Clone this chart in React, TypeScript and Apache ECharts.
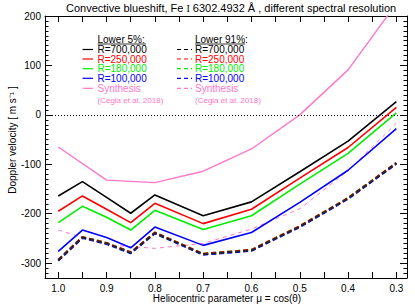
import React, { useEffect, useRef } from "react";
import * as echarts from "echarts";

const muObs = [1.0, 0.95, 0.9, 0.85, 0.8, 0.7, 0.6, 0.5, 0.4, 0.3];
const r700Low5 = [-164, -135, -167, -199, -162, -204, -176, -115, -53, 27];
const r250Low5 = [-195, -164, -191, -218, -179, -220, -191, -128, -66, 15];
const r180Low5 = [-218, -185, -207, -233, -193, -232, -204, -140, -78, 4];
const r100Low5 = [-276, -233, -248, -269, -227, -264, -238, -177, -112, -28];
const r700Low91 = [-294, -248, -260, -279, -239, -282, -274, -226, -169, -98];
const r250Low91 = [-293, -247, -259, -278, -238, -281, -273, -225, -168, -97];
const r180Low91 = [-293, -247, -259, -278, -238, -281, -273, -225, -168, -97];
const r100Low91 = [-295, -249, -261, -280, -240, -283, -275, -227, -170, -99];

const muSyn = [1.0, 0.9, 0.8, 0.7, 0.6, 0.5, 0.4, 0.3];
const synLow5 = [-65, -132, -137, -114, -69, 0, 91, 225];
const synLow91 = [-233, -263, -270, -260, -231, -190, -113, -17];

const xTickLabels = [1.0, 0.9, 0.8, 0.7, 0.6, 0.5, 0.4, 0.3];
const xTicks = [1.0, 0.95, 0.9, 0.85, 0.8, 0.75, 0.7, 0.65, 0.6, 0.55, 0.5, 0.45, 0.4, 0.35, 0.3];
const yTickLabels = [-300, -200, -100, 0, 100, 200];

const X_MIN = 0.278;
const X_MAX = 1.0275;
const Y_MIN = -330;
const Y_MAX = 200;

const PINK = "#ff78c8";
const FONT = "Liberation Sans, Arial, sans-serif";

export default function App() {
  const ref = useRef<HTMLDivElement>(null);
  useEffect(() => {
    if (!ref.current) return;
    const chart = echarts.init(ref.current, null, { renderer: "svg" });
    const yMinor: number[] = [];
    for (let v = Y_MIN; v <= Y_MAX; v += 10) yMinor.push(v);

    const zip = (xs: number[], ys: number[]) => xs.map((x, i) => [x, ys[i]]);

    const solid = (name: string, color: string, ys: number[], xs = muObs, width = 1.6) => ({
      name,
      type: "line",
      data: zip(xs, ys),
      symbol: "none",
      lineStyle: { color, width, type: "solid" },
      xAxisIndex: 0,
      yAxisIndex: 0,
      silent: true,
    });
    const dashed = (name: string, color: string, ys: number[], xs = muObs, width = 2, dash: number[] = [5, 3]) => ({
      name,
      type: "line",
      data: zip(xs, ys),
      symbol: "none",
      lineStyle: { color, width, type: dash },
      xAxisIndex: 0,
      yAxisIndex: 0,
      silent: true,
    });

    const baseX = {
      type: "value",
      min: X_MIN,
      max: X_MAX,
      inverse: true,
      splitLine: { show: false },
      axisLine: { show: true, onZero: false, lineStyle: { color: "#000", width: 1 } },
    };
    const baseY = {
      type: "value",
      min: Y_MIN,
      max: Y_MAX,
      splitLine: { show: false },
    };

    const legendLeft = [
      { t: "R=700,000", c: "#000000", y: 49.5 },
      { t: "R=250,000", c: "#ff0000", y: 59 },
      { t: "R=180,000", c: "#00ee00", y: 68.7 },
      { t: "R=100,000", c: "#0000ff", y: 78.3 },
      { t: "Synthesis", c: PINK, y: 88.3 },
    ];

    const graphics: any[] = [];
    // title
    graphics.push({
      type: "text",
      x: 66,
      y: 8,
      style: {
        text: "{a|Convective blueshift, Fe}{r|I}{a| 6302.4932 Å , different spectral resolution}",
        rich: {
          a: { fontFamily: FONT, fontSize: 11, fill: "#000" },
          r: { fontFamily: "Liberation Serif, serif", fontSize: 10, fill: "#000", padding: [0, 0, 0, 3] },
        },
        verticalAlign: "middle",
        align: "left",
      },
    });
    // y axis name
    graphics.push({
      type: "text",
      x: 12,
      y: 140,
      rotation: Math.PI / 2,
      style: {
        text: "Doppler velocity [ m s⁻¹ ]",
        fontFamily: FONT,
        fontSize: 10,
        fill: "#000",
        align: "center",
        verticalAlign: "middle",
      },
    });
    // x axis name
    graphics.push({
      type: "text",
      x: 227,
      y: 298,
      style: {
        text: "Heliocentric parameter μ = cos(θ)",
        fontFamily: FONT,
        fontSize: 10,
        fill: "#000",
        align: "center",
        verticalAlign: "middle",
      },
    });

    const cols = [
      { tx: 97.5, lx1: 82.5, lx2: 93, head: "Lower 5%:", ulEnd: 146, dash: null as null | number[] },
      { tx: 195, lx1: 177, lx2: 192, head: "Lower 91%:", ulEnd: 245, dash: [4, 3] },
    ];
    cols.forEach((col) => {
      graphics.push({
        type: "text",
        x: col.tx,
        y: 39.3,
        style: { text: col.head, fontFamily: FONT, fontSize: 10, fill: "#000", align: "left", verticalAlign: "middle" },
      });
      graphics.push({
        type: "line",
        shape: { x1: col.tx, y1: 44, x2: col.ulEnd, y2: 44 },
        style: { stroke: "#000", lineWidth: 0.8 },
      });
      legendLeft.forEach((it) => {
        graphics.push({
          type: "text",
          x: col.tx,
          y: it.y,
          style: { text: it.t, fontFamily: FONT, fontSize: 10, fill: it.c, align: "left", verticalAlign: "middle" },
        });
        graphics.push({
          type: "line",
          shape: { x1: col.lx1, y1: it.y, x2: col.lx2, y2: it.y },
          style: { stroke: it.c, lineWidth: 1.2, lineDash: col.dash || undefined },
        });
      });
      graphics.push({
        type: "text",
        x: col.tx,
        y: 100,
        style: { text: "(Cegla et al. 2018)", fontFamily: FONT, fontSize: 8, fill: PINK, align: "left", verticalAlign: "middle" },
      });
    });

    chart.setOption({
      animation: false,
      backgroundColor: "#ffffff",
      grid: { left: 45, right: 8, top: 16, bottom: 28, containLabel: false },
      xAxis: [
        {
          ...baseX,
          position: "bottom",
          axisTick: { show: true, inside: true, length: 6, customValues: xTicks, lineStyle: { color: "#000" } },
          axisLabel: {
            show: true,
            customValues: xTickLabels,
            formatter: (v: number) => v.toFixed(1),
            fontFamily: FONT,
            fontSize: 10,
            color: "#000",
            margin: 5,
          },
        },
        {
          ...baseX,
          position: "top",
          axisTick: { show: true, inside: true, length: 6, customValues: xTicks, lineStyle: { color: "#000" } },
          axisLabel: { show: false },
        },
      ],
      yAxis: [
        {
          ...baseY,
          position: "left",
          axisLine: { show: true, onZero: false, lineStyle: { color: "#000", width: 1 } },
          axisTick: { show: true, inside: true, length: 7, customValues: yTickLabels, lineStyle: { color: "#000" } },
          axisLabel: {
            show: true,
            customValues: yTickLabels,
            fontFamily: FONT,
            fontSize: 10,
            color: "#000",
            margin: 4,
          },
        },
        {
          ...baseY,
          position: "left",
          axisLine: { show: false },
          axisTick: { show: true, inside: true, length: 3.5, customValues: yMinor, lineStyle: { color: "#000" } },
          axisLabel: { show: false },
        },
        {
          ...baseY,
          position: "right",
          axisLine: { show: true, onZero: false, lineStyle: { color: "#000", width: 1 } },
          axisTick: { show: true, inside: true, length: 7, customValues: yTickLabels, lineStyle: { color: "#000" } },
          axisLabel: { show: false },
        },
        {
          ...baseY,
          position: "right",
          axisLine: { show: false },
          axisTick: { show: true, inside: true, length: 3.5, customValues: yMinor, lineStyle: { color: "#000" } },
          axisLabel: { show: false },
        },
      ],
      series: [
        {
          ...solid("Synthesis 5%", PINK, synLow5, muSyn, 1.4),
          markLine: {
            silent: true,
            symbol: ["none", "none"],
            label: { show: false },
            lineStyle: { color: "#000", width: 1, type: [1, 2] },
            data: [{ yAxis: 0 }],
          },
        },
        dashed("Synthesis 91%", PINK, synLow91, muSyn, 1, [4, 4]),
        dashed("R=100,000 91%", "#0000ff", r100Low91),
        dashed("R=180,000 91%", "#00ee00", r180Low91),
        dashed("R=250,000 91%", "#ff0000", r250Low91),
        dashed("R=700,000 91%", "#222233", r700Low91),
        solid("R=100,000 5%", "#0000ff", r100Low5),
        solid("R=180,000 5%", "#00ee00", r180Low5),
        solid("R=250,000 5%", "#ff0000", r250Low5),
        solid("R=700,000 5%", "#000000", r700Low5),
      ],
      graphic: graphics,
    });
    return () => chart.dispose();
  }, []);
  return <div ref={ref} style={{ width: 415, height: 306, position: "absolute", left: 0, top: 0 }} />;
}
